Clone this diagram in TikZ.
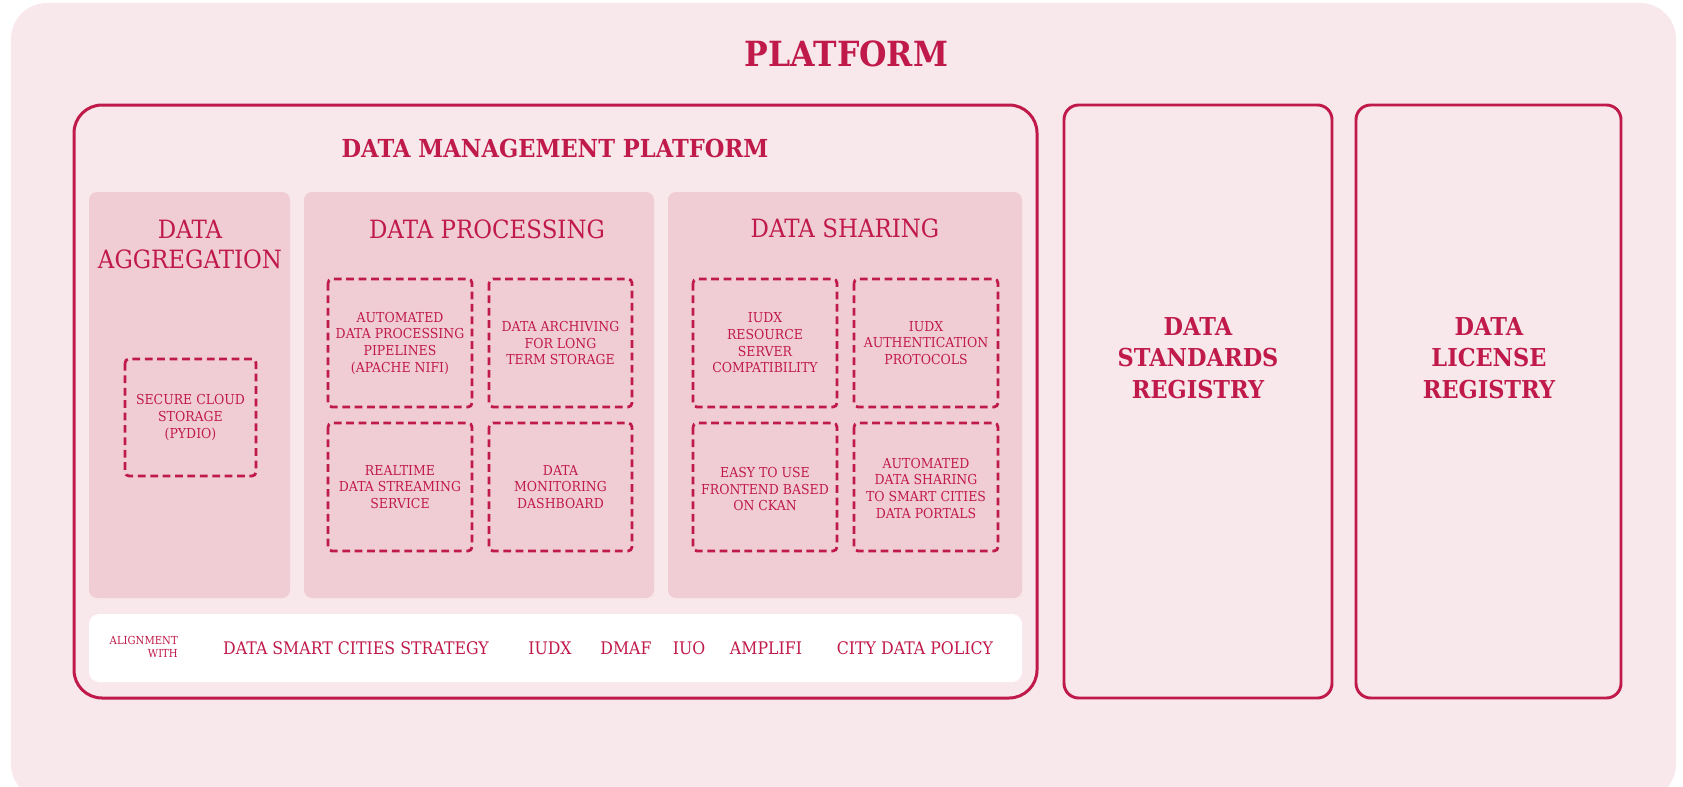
\documentclass[tikz,border=0pt]{standalone}
\usepackage{fontspec}
\setmainfont{DejaVu Serif}
\newfontfamily\slimserif[FakeStretch=0.91]{DejaVu Serif}
\usetikzlibrary{positioning}
\definecolor{crimson}{RGB}{192,26,74}
\definecolor{blushbg}{RGB}{248,231,235}
\definecolor{panelpink}{RGB}{240,205,213}

\begin{document}
\begin{tikzpicture}[x=0.75pt,y=0.75pt,yscale=-1,xscale=1,
  label/.style={text=crimson, align=center, inner sep=0.75pt},
  dashbox/.style={draw=crimson, line width=2.1pt, dash pattern=on 5.8pt off 3.5pt, rounded corners=3pt},
  regbox/.style={draw=crimson, line width=2.2pt, rounded corners=11pt},
  panel/.style={fill=panelpink, rounded corners=6pt},
  boxtext/.style={label, font=\slimserif\fontsize{10.3}{12.5}\selectfont},
  bartext/.style={label, font=\slimserif\fontsize{13}{14}\selectfont},
  coltitle/.style={label, font=\slimserif\fontsize{18.9}{22.5}\selectfont},
  regtext/.style={label, font=\slimserif\bfseries\fontsize{18.5}{23.6}\selectfont}]
\useasboundingbox (0,0) rectangle (1683,786);

%Shape: Background
\fill [blushbg, rounded corners=27pt] (11,3) rectangle (1676,800);
%Shape: Data management platform
\draw [crimson, line width=2.25pt, rounded corners=21pt] (74,105) rectangle (1037,698);
%Shape: Registries
\draw [regbox] (1064,105) rectangle (1332,698);
\draw [regbox] (1356,105) rectangle (1621,698);

%Shape: Column panels
\fill [panel] (89,192) rectangle (290,598);
\fill [panel] (304,192) rectangle (654,598);
\fill [panel] (668,192) rectangle (1022,598);
%Shape: Alignment bar
\fill [white, rounded corners=7.5pt] (89,614) rectangle (1022,682);

%Shape: Dashed boxes
\draw [dashbox] (125,359) rectangle (256,476);
\draw [dashbox] (328,279) rectangle (472,407);
\draw [dashbox] (489,279) rectangle (632,407);
\draw [dashbox] (328,423) rectangle (472,551);
\draw [dashbox] (489,423) rectangle (632,551);
\draw [dashbox] (693,279) rectangle (837,407);
\draw [dashbox] (854,279) rectangle (998,407);
\draw [dashbox] (693,423) rectangle (837,551);
\draw [dashbox] (854,423) rectangle (998,551);

% Text Node
\node (platform) [label, font=\slimserif\bfseries\fontsize{26}{30}\selectfont] at (846.5,53.5) {PLATFORM};
% Text Node
\node (dmptitle) [label, font=\slimserif\bfseries\fontsize{18.6}{21}\selectfont] at (555,148) {DATA MANAGEMENT PLATFORM};
% Text Node
\node (aggtitle) [coltitle] at (190,244) {DATA\\AGGREGATION};
\node (proctitle) [coltitle] at (487,229) {DATA PROCESSING};
\node (sharetitle) [coltitle] at (845,228) {DATA SHARING};

% Text Node
\node (cloud) [boxtext] at (190.5,417.5) {SECURE CLOUD\\STORAGE\\(PYDIO)};
\node (pipelines) [boxtext] at (400,343) {AUTOMATED\\DATA PROCESSING\\PIPELINES\\(APACHE NIFI)};
\node (archive) [boxtext] at (560.5,343) {DATA ARCHIVING\\FOR LONG\\TERM STORAGE};
\node (stream) [boxtext] at (400,487) {REALTIME\\DATA STREAMING\\SERVICE};
\node (monitor) [boxtext] at (560.5,487) {DATA\\MONITORING\\DASHBOARD};
\node (resource) [boxtext] at (765,343) {IUDX\\RESOURCE\\SERVER\\COMPATIBILITY};
\node (auth) [boxtext] at (926,343) {IUDX\\AUTHENTICATION\\PROTOCOLS};
\node (frontend) [boxtext] at (765,489) {EASY TO USE\\FRONTEND BASED\\ON CKAN};
\node (portals) [boxtext] at (926,488) {AUTOMATED\\DATA SHARING\\TO SMART CITIES\\DATA PORTALS};

% Text Node
\node (alignwith) [label, align=right, anchor=east, font=\slimserif\fontsize{8.3}{9.8}\selectfont] at (179,647) {ALIGNMENT\\WITH};
\node (strategy) [bartext] at (356,648) {DATA SMART CITIES STRATEGY};
\node (iudx) [bartext] at (550,648) {IUDX};
\node (dmaf) [bartext] at (626,648) {DMAF};
\node (iuo) [bartext] at (689,648) {IUO};
\node (amplifi) [bartext] at (766,648) {AMPLIFI};
\node (policy) [bartext] at (915,648) {CITY DATA POLICY};

% Text Node
\node (standards) [regtext] at (1198,358) {DATA\\STANDARDS\\REGISTRY};
\node (license) [regtext] at (1489,358) {DATA\\LICENSE\\REGISTRY};

\end{tikzpicture}
\end{document}
